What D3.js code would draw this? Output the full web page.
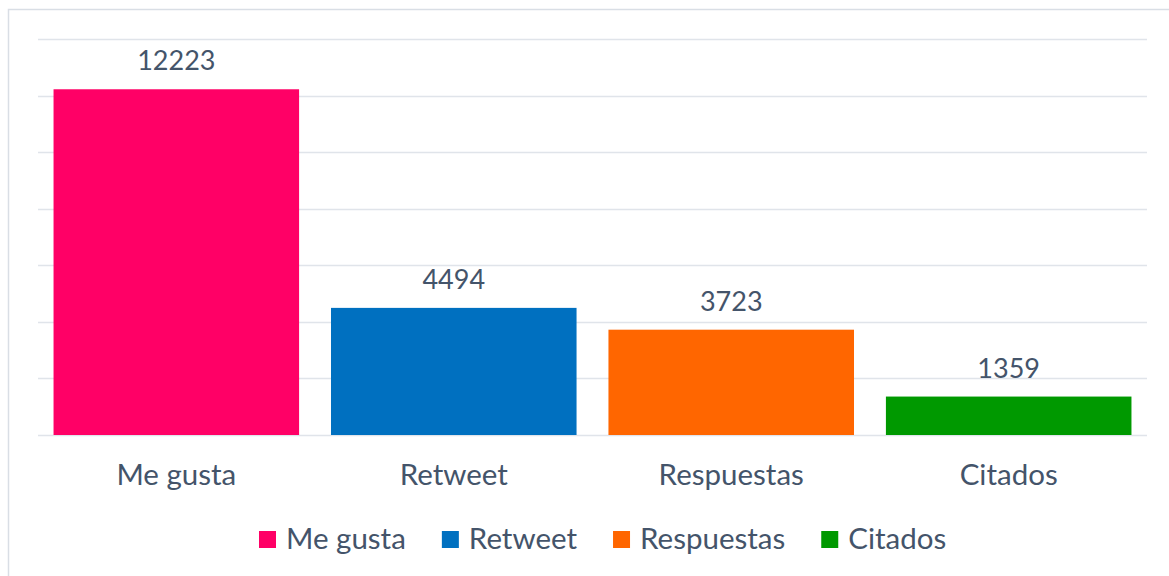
<!DOCTYPE html>
<html>
<head>
<meta charset="utf-8">
<script src="https://cdn.jsdelivr.net/npm/d3@7"></script>
<style>
  body { margin: 0; background: #fff; }
  text { font-family: Lato, "Open Sans", sans-serif; fill: #44546A; }
</style>
</head>
<body>
<svg id="chart" width="1169" height="576"></svg>
<script>
const categories = ["Me gusta", "Retweet", "Respuestas", "Citados"]
const values = [12223, 4494, 3723, 1359]
const colors = ["#FF0066", "#0070C0", "#FF6600", "#009900"]
const yTicks = [0, 2000, 4000, 6000, 8000, 10000, 12000, 14000]

const svg = d3.select('#chart')

// outer frame
svg.append('rect')
    .attr('x', 8.5).attr('y', 9.5)
    .attr('width', 1169).attr('height', 576)
    .attr('fill', 'none')
    .attr('stroke', '#D9DEE5').attr('stroke-width', 1.5)

const plotLeft = 38, plotRight = 1147, plotTop = 39, plotBottom = 435

const x = d3.scaleBand().domain(categories).range([plotLeft, plotRight])
    .paddingInner(0.115).paddingOuter(0.056)
const y = d3.scaleLinear().domain([0, 14000]).range([plotBottom, plotTop])

// gridlines
svg.append('g').selectAll('line')
    .data(yTicks)
    .enter().append('line')
    .attr('x1', plotLeft).attr('x2', plotRight)
    .attr('y1', d => Math.round(y(d)) + 0.5)
    .attr('y2', d => Math.round(y(d)) + 0.5)
    .attr('stroke', '#E0E4EA').attr('stroke-width', 1.5)

// bars
svg.append('g').selectAll('rect')
    .data(values)
    .enter().append('rect')
    .attr('x', (d, i) => x(categories[i]))
    .attr('y', d => y(d))
    .attr('width', x.bandwidth())
    .attr('height', d => y(0) - y(d))
    .attr('fill', (d, i) => colors[i])

// value labels
svg.append('g').selectAll('text')
    .data(values)
    .enter().append('text')
    .attr('x', (d, i) => x(categories[i]) + x.bandwidth() / 2)
    .attr('y', d => y(d) - 19)
    .attr('text-anchor', 'middle')
    .attr('font-size', 27)
    .text(d => d)

// category labels
svg.append('g').selectAll('text')
    .data(categories)
    .enter().append('text')
    .attr('x', d => x(d) + x.bandwidth() / 2)
    .attr('y', 485)
    .attr('text-anchor', 'middle')
    .attr('font-size', 29.5)
    .text(d => d)

// legend
const legend = svg.append('g')
let lx = 259
categories.forEach((c, i) => {
    legend.append('rect')
        .attr('x', lx).attr('y', 531)
        .attr('width', 17).attr('height', 17)
        .attr('fill', colors[i])
    const t = legend.append('text')
        .attr('x', lx + 27).attr('y', 549)
        .attr('font-size', 29.5)
        .text(c)
    lx += 27 + t.node().getComputedTextLength() + 36
})
</script>
</body>
</html>
